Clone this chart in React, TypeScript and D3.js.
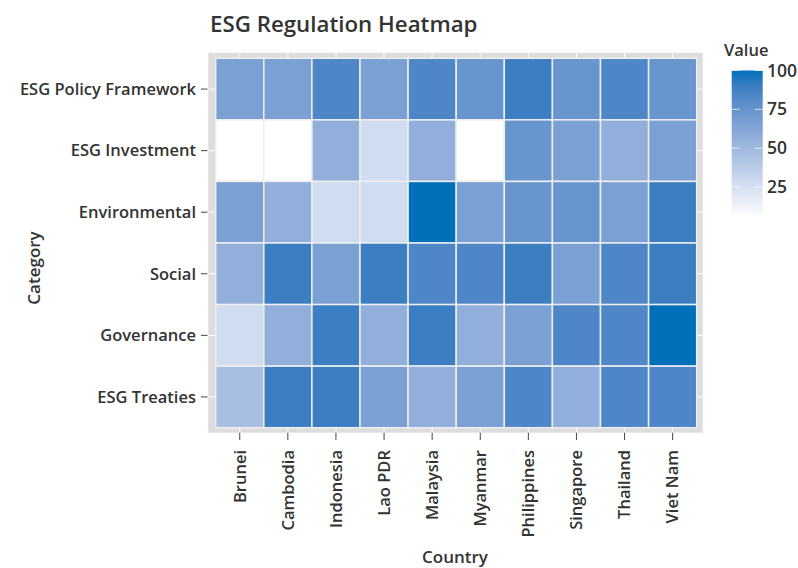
import { useRef, useEffect } from "react"
import * as d3 from "d3"

const countries = ["Brunei", "Cambodia", "Indonesia", "Lao PDR", "Malaysia", "Myanmar", "Philippines", "Singapore", "Thailand", "Viet Nam"]
const categories = ["ESG Policy Framework", "ESG Investment", "Environmental", "Social", "Governance", "ESG Treaties"]

// one array per category, in country order
const policyFramework = [66, 66, 84, 66, 84, 74, 90, 74, 84, 74]
const investment = [5, 5, 56, 27, 56, 5, 74, 66, 56, 66]
const environmental = [66, 56, 27, 27, 100, 66, 74, 74, 66, 90]
const social = [56, 90, 66, 90, 84, 84, 90, 66, 84, 90]
const governance = [27, 56, 90, 56, 90, 56, 66, 84, 84, 100]
const treaties = [46, 90, 90, 66, 56, 66, 84, 56, 84, 84]

const rows = [policyFramework, investment, environmental, social, governance, treaties]
const legendTicks = [25, 50, 75, 100]
const valueDomain: [number, number] = [5, 100]

const FONT = "'Open Sans', 'Noto Sans', sans-serif"
const TEXT = "#333"

export default function App() {
  const svgRef = useRef<SVGSVGElement>(null)

  useEffect(() => {
    if (!svgRef.current) return
    const svg = d3.select(svgRef.current)
    svg.selectAll("*").remove()

    const x = d3.scaleBand().domain(countries).range([215.7, 696.7])
    const y = d3.scaleBand().domain(categories).range([58.3, 427.7])
    const color = d3
      .scaleLinear<string>()
      .domain(valueDomain)
      .range(["#ffffff", "#0070bb"])
      .interpolate(d3.interpolateLab)

    const cells = categories.flatMap((cat, i) =>
      countries.map((c, j) => ({ cat, country: c, value: rows[i][j] }))
    )

    // panel frame
    const frame = { x0: 208.3, x1: 702.7, y0: 52.7, y1: 432.7 }
    svg.append("rect")
      .attr("x", frame.x0).attr("y", frame.y0)
      .attr("width", frame.x1 - frame.x0).attr("height", frame.y1 - frame.y0)
      .attr("fill", "#dddddd")

    const half = x.bandwidth() / 2
    const halfY = y.bandwidth() / 2
    svg.append("g").selectAll("line").data(countries).join("line")
      .attr("x1", (d) => x(d)! + half).attr("x2", (d) => x(d)! + half)
      .attr("y1", frame.y0).attr("y2", frame.y1)
      .attr("stroke", "#fff").attr("stroke-width", 1)
    svg.append("g").selectAll("line").data(categories).join("line")
      .attr("y1", (d) => y(d)! + halfY).attr("y2", (d) => y(d)! + halfY)
      .attr("x1", frame.x0).attr("x2", frame.x1)
      .attr("stroke", "#fff").attr("stroke-width", 1)

    svg.append("g").selectAll("rect").data(cells).join("rect")
      .attr("x", (d) => x(d.country)!)
      .attr("y", (d) => y(d.cat)!)
      .attr("width", x.bandwidth())
      .attr("height", y.bandwidth())
      .attr("fill", (d) => color(d.value))
      .attr("stroke", "#eeeeee")
      .attr("stroke-width", 1.5)

    // y axis
    const yAxis = svg.append("g")
    yAxis.selectAll("line").data(categories).join("line")
      .attr("x1", 201).attr("x2", 207.5)
      .attr("y1", (d) => y(d)! + halfY).attr("y2", (d) => y(d)! + halfY)
      .attr("stroke", "#444")
    yAxis.selectAll("text").data(categories).join("text")
      .attr("x", 196).attr("y", (d) => y(d)! + halfY)
      .attr("dy", "0.35em")
      .attr("text-anchor", "end")
      .attr("font-size", 16.5).attr("font-weight", 600)
      .attr("font-family", FONT).attr("fill", TEXT)
      .text((d) => d)

    // x axis
    const xAxis = svg.append("g")
    xAxis.selectAll("line").data(countries).join("line")
      .attr("x1", (d) => x(d)! + half).attr("x2", (d) => x(d)! + half)
      .attr("y1", frame.y1).attr("y2", 440)
      .attr("stroke", "#444")
    xAxis.selectAll("text").data(countries).join("text")
      .attr("transform", (d) => `translate(${x(d)! + half},450) rotate(-90)`)
      .attr("dy", "0.35em")
      .attr("text-anchor", "end")
      .attr("font-size", 16.5).attr("font-weight", 600)
      .attr("font-family", FONT).attr("fill", TEXT)
      .text((d) => d)

    // titles
    svg.append("text")
      .attr("x", 210).attr("y", 32)
      .attr("font-size", 22.3).attr("font-weight", 600)
      .attr("font-family", FONT).attr("fill", TEXT)
      .text("ESG Regulation Heatmap")
    svg.append("text")
      .attr("x", 455).attr("y", 563)
      .attr("text-anchor", "middle")
      .attr("font-size", 17).attr("font-weight", 600)
      .attr("font-family", FONT).attr("fill", TEXT)
      .text("Country")
    svg.append("text")
      .attr("transform", "translate(40,268) rotate(-90)")
      .attr("text-anchor", "middle")
      .attr("font-size", 17).attr("font-weight", 600)
      .attr("font-family", FONT).attr("fill", TEXT)
      .text("Category")

    // legend
    const ly = d3.scaleLinear().domain(valueDomain).range([218, 70.5])
    const defs = svg.append("defs")
    const grad = defs.append("linearGradient")
      .attr("id", "legend-grad")
      .attr("x1", 0).attr("y1", 1).attr("x2", 0).attr("y2", 0)
    d3.range(0, 1.0001, 0.1).forEach((t) => {
      const v = valueDomain[0] + t * (valueDomain[1] - valueDomain[0])
      grad.append("stop").attr("offset", t).attr("stop-color", color(v))
    })
    const lx = 731.7
    const lw = 31
    svg.append("rect")
      .attr("x", lx).attr("y", ly(valueDomain[1]))
      .attr("width", lw).attr("height", ly(valueDomain[0]) - ly(valueDomain[1]))
      .attr("fill", "url(#legend-grad)")
    const lt = svg.append("g")
    legendTicks.forEach((t) => {
      lt.append("line").attr("x1", lx).attr("x2", lx + 8)
        .attr("y1", ly(t)).attr("y2", ly(t)).attr("stroke", "#fff").attr("stroke-opacity", 0.7)
      lt.append("line").attr("x1", lx + lw - 8).attr("x2", lx + lw)
        .attr("y1", ly(t)).attr("y2", ly(t)).attr("stroke", "#fff").attr("stroke-opacity", 0.7)
      lt.append("text")
        .attr("x", 767).attr("y", ly(t))
        .attr("dy", "0.35em")
        .attr("font-size", 17.5).attr("font-weight", 600)
        .attr("font-family", FONT).attr("fill", TEXT)
        .text(t)
    })
    svg.append("text")
      .attr("x", 724).attr("y", 56)
      .attr("font-size", 16.5).attr("font-weight", 600)
      .attr("font-family", FONT).attr("fill", TEXT)
      .text("Value")
  }, [])

  return (
    <svg
      ref={svgRef}
      width={798}
      height={568}
      style={{ position: "absolute", left: 0, top: 0, background: "#fff" }}
    ></svg>
  )
}
